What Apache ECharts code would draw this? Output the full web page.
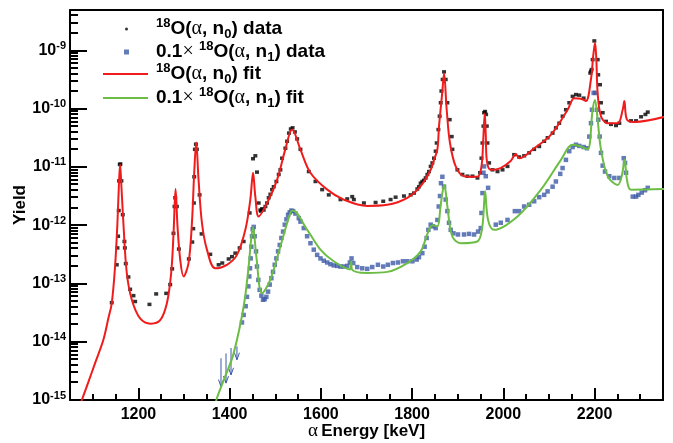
<!DOCTYPE html>
<html><head><meta charset="utf-8">
<script src="https://cdn.jsdelivr.net/npm/echarts@6/dist/echarts.min.js"></script>
<style>html,body{margin:0;padding:0;background:#fff}#c{width:673px;height:443px}</style>
</head><body><div id="c"></div>
<script>
// ---- data (energy in keV, yield) ----
const n0Data = [[1141.5,4.68e-14],[1152.5,2.09e-13],[1154,4.07e-13],[1155.4,6.46e-13],[1156.9,1.78e-12],[1157.6,5.75e-12],[1159.1,1.10e-11],[1160.5,1.12e-11],[1162.7,5.75e-12],[1165.7,1.51e-12],[1169.3,5.25e-13],[1170.3,4.07e-13],[1172.3,2.19e-13],[1178.1,1.29e-13],[1181.8,7.94e-14],[1189.1,6.17e-14],[1192.8,4.90e-14],[1224.2,4.37e-14],[1238.9,6.61e-14],[1260.9,6.76e-14],[1269.6,9.55e-14],[1274,1.78e-13],[1276.9,7.24e-13],[1279.1,2.09e-12],[1280.6,2.95e-12],[1284.3,2.09e-12],[1288.7,3.89e-13],[1310.6,2.63e-13],[1318,5.13e-13],[1320.2,8.71e-13],[1321.6,2.40e-12],[1322.3,6.76e-12],[1323.8,2.0e-11],[1326,2.45e-11],[1328.2,2.0e-11],[1334.1,3.31e-12],[1338.5,7.08e-13],[1357.5,3.16e-13],[1375.8,2.09e-13],[1383.8,2.24e-13],[1397.8,2.63e-13],[1405.1,2.88e-13],[1412.4,3.31e-13],[1421.9,4.07e-13],[1430.7,5.25e-13],[1443.9,1.62e-12],[1451.2,1.38e-11],[1456.3,1.55e-11],[1460,8.13e-12],[1463.6,2.40e-12],[1467.3,1.82e-12],[1468.5,1.74e-12],[1471,1.91e-12],[1474.6,1.82e-12],[1478.3,2.09e-12],[1482,2.40e-12],[1485.6,2.95e-12],[1489.3,3.39e-12],[1493,4.07e-12],[1496.6,4.57e-12],[1502.4,5.62e-12],[1507.6,7.41e-12],[1511.2,8.91e-12],[1514.9,1.41e-11],[1522.2,2.09e-11],[1525.9,2.75e-11],[1530,3.80e-11],[1534,4.47e-11],[1538,4.68e-11],[1543,3.98e-11],[1548,3.02e-11],[1555.2,2.0e-11],[1573.5,8.32e-12],[1588.1,5.62e-12],[1602.8,4.07e-12],[1617.3,3.31e-12],[1643,2.75e-12],[1657.7,2.82e-12],[1668.7,3.09e-12],[1672.3,2.75e-12],[1694.3,2.40e-12],[1719.9,2.45e-12],[1736.7,2.57e-12],[1752.8,2.75e-12],[1763.8,3.02e-12],[1782.1,3.16e-12],[1796.8,3.31e-12],[1804,3.55e-12],[1811.4,4.17e-12],[1815,4.57e-12],[1818.7,5.25e-12],[1822.4,5.62e-12],[1826,5.89e-12],[1829.7,6.46e-12],[1833.4,7.41e-12],[1837,8.32e-12],[1840.7,1.02e-11],[1844.4,1.17e-11],[1848,1.41e-11],[1851.7,1.86e-11],[1853.9,2.57e-11],[1857.6,4.37e-11],[1860.4,7.41e-11],[1862.7,1.26e-10],[1864.2,2.0e-10],[1867,3.16e-10],[1870,4.27e-10],[1873.6,3.16e-10],[1877.3,1.26e-10],[1882.4,6.46e-11],[1886.8,3.31e-11],[1888.3,2.0e-11],[1899.3,8.91e-12],[1910.3,7.41e-12],[1921.3,6.92e-12],[1932.3,6.92e-12],[1943.2,6.46e-12],[1949,7.94e-12],[1952,1.41e-11],[1954.2,2.57e-11],[1956.4,5.01e-11],[1957.8,8.51e-11],[1960,8.91e-11],[1962.2,7.94e-11],[1963.7,5.01e-11],[1965.2,2.57e-11],[1968.8,1.17e-11],[1976.2,8.91e-12],[1987.2,8.32e-12],[1998.2,8.91e-12],[2009.1,1.02e-11],[2023.6,1.62e-11],[2034.6,1.48e-11],[2045.6,1.55e-11],[2056.6,1.74e-11],[2067.6,2.0e-11],[2078.6,2.24e-11],[2089.5,2.75e-11],[2097,3.16e-11],[2108,3.80e-11],[2115.2,4.68e-11],[2122.5,5.62e-11],[2129.9,7.41e-11],[2137.2,9.55e-11],[2144.5,1.26e-10],[2151.9,1.62e-10],[2159.2,1.74e-10],[2166.5,1.70e-10],[2176,1.51e-10],[2190.6,4.07e-10],[2192,4.37e-10],[2193.6,4.68e-10],[2195.8,6.92e-10],[2199.4,1.45e-9],[2206.8,6.92e-10],[2208,3.80e-10],[2211.9,2.57e-10],[2214,1.26e-10],[2217.8,8.51e-11],[2225,6.03e-11],[2236,5.37e-11],[2247,5.13e-11],[2254.3,5.62e-11],[2280,6.17e-11],[2290.9,6.17e-11],[2301.9,7.24e-11],[2311.4,7.94e-11],[2316.6,8.71e-11]];

const n1Data = [[1427,2.14e-14],[1430.7,2.88e-14],[1435.1,4.07e-14],[1438,5.89e-14],[1441,8.91e-14],[1443.1,1.32e-13],[1444.6,1.82e-13],[1446.1,2.69e-13],[1447.5,4.27e-13],[1449,6.46e-13],[1450.5,8.51e-13],[1452.7,9.33e-13],[1454.9,6.46e-13],[1457.8,3.55e-13],[1460,1.95e-13],[1462.9,1.15e-13],[1465.8,7.76e-14],[1469.5,6.17e-14],[1473.2,5.25e-14],[1476.8,5.37e-14],[1480.5,5.89e-14],[1484.2,7.24e-14],[1487.8,9.55e-14],[1491.5,1.23e-13],[1495.1,1.58e-13],[1498.8,2.09e-13],[1502.4,2.69e-13],[1506.1,3.55e-13],[1509.8,4.57e-13],[1513.4,6.03e-13],[1517.1,7.76e-13],[1520.8,1.02e-12],[1524.4,1.26e-12],[1528.1,1.51e-12],[1531.7,1.66e-12],[1535.4,1.78e-12],[1539.1,1.74e-12],[1544.2,1.58e-12],[1551.5,1.32e-12],[1555.2,1.15e-12],[1562.5,8.91e-13],[1569.8,6.46e-13],[1577.1,4.90e-13],[1584.4,3.80e-13],[1591.8,3.09e-13],[1599.1,2.69e-13],[1606.4,2.45e-13],[1613.8,2.29e-13],[1621,2.14e-13],[1628.3,2.04e-13],[1635.8,2.0e-13],[1643,1.95e-13],[1650.3,1.95e-13],[1657.7,2.0e-13],[1663.5,2.29e-13],[1667.2,2.69e-13],[1670.9,2.24e-13],[1679.7,1.91e-13],[1690.7,1.82e-13],[1701.7,1.78e-13],[1712.6,1.91e-13],[1725,2.09e-13],[1736.7,1.95e-13],[1746.9,2.09e-13],[1757.9,2.24e-13],[1768.9,2.29e-13],[1779.9,2.40e-13],[1789.5,2.40e-13],[1800.5,2.40e-13],[1809.9,2.57e-13],[1815,2.82e-13],[1822.4,3.31e-13],[1827.5,4.27e-13],[1831.9,6.03e-13],[1835.6,8.32e-13],[1840.7,1.02e-12],[1845.8,9.55e-13],[1851.7,8.91e-13],[1855.4,1.23e-12],[1858.3,2.09e-12],[1861.1,3.16e-12],[1863.3,5.25e-12],[1866.3,6.76e-12],[1870,4.57e-12],[1873.6,2.75e-12],[1877.3,1.74e-12],[1880.9,1.10e-12],[1884.6,8.32e-13],[1890.5,7.24e-13],[1900.6,6.92e-13],[1913.8,6.92e-13],[1924.8,7.08e-13],[1935.8,6.92e-13],[1944.6,7.76e-13],[1950.5,8.91e-13],[1952,1.62e-12],[1954.2,3.55e-12],[1956.4,7.94e-12],[1957.8,1.02e-11],[1961.5,6.92e-12],[1966.6,4.37e-12],[1983.4,1.02e-12],[1994.4,1.10e-12],[2009.1,1.23e-12],[2025.2,1.74e-12],[2034.6,1.74e-12],[2045.6,2.09e-12],[2056.6,2.24e-12],[2067.6,2.57e-12],[2078.6,3.02e-12],[2089.5,3.31e-12],[2097,3.80e-12],[2108,4.57e-12],[2115.2,5.62e-12],[2124.7,7.59e-12],[2129.9,9.55e-12],[2137.2,1.32e-11],[2144.5,1.86e-11],[2151.9,2.19e-11],[2159.2,2.40e-11],[2166.5,2.29e-11],[2176,2.19e-11],[2183.3,2.09e-11],[2188.4,3.31e-11],[2192.1,5.62e-11],[2194.3,9.55e-11],[2198,1.86e-10],[2201.6,1.86e-10],[2205.3,9.55e-11],[2208.2,6.46e-11],[2211.2,3.31e-11],[2214.1,1.74e-11],[2217.8,1.05e-11],[2222.9,8.32e-12],[2232.3,6.92e-12],[2243.3,6.46e-12],[2254.3,6.46e-12],[2263.9,1.41e-11],[2266.8,1.17e-11],[2269,7.94e-12],[2283.7,3.09e-12],[2290.9,3.09e-12],[2296,3.31e-12],[2303.4,3.63e-12],[2310.7,3.98e-12],[2316.6,4.37e-12]];

const n0Fit = [[1066,6.3e-16],[1076,1.0e-15],[1090,2.0e-15],[1105,4.3e-15],[1123,1.07e-14],[1134,2.5e-14],[1141.5,4.57e-14],[1148.8,1.95e-13],[1154,1.10e-12],[1157,4.47e-12],[1159.8,1.10e-11],[1162.5,5.0e-12],[1167,1.10e-12],[1174.5,1.51e-13],[1185.5,5.25e-14],[1203.7,2.51e-14],[1227,2.04e-14],[1247.7,2.34e-14],[1262.4,4.57e-14],[1271.8,1.51e-13],[1277,7.24e-13],[1281.4,4.17e-12],[1285.7,9.55e-13],[1291.6,2.57e-13],[1298.9,1.32e-13],[1309.8,2.24e-13],[1317.3,1.10e-12],[1322.3,7.94e-12],[1326.7,2.63e-11],[1331.8,6.03e-12],[1339.2,1.10e-12],[1350.2,3.80e-13],[1368.5,1.82e-13],[1394,2.09e-13],[1416,3.09e-13],[1434.4,8.32e-13],[1445.3,2.75e-12],[1451.3,7.94e-12],[1456.3,3.09e-12],[1463.6,1.41e-12],[1482,2.40e-12],[1504,6.03e-12],[1522,2.0e-11],[1537,4.37e-11],[1555,2.0e-11],[1577,7.94e-12],[1614,4.07e-12],[1650,2.75e-12],[1701.6,2.14e-12],[1745.6,2.24e-12],[1789.5,2.95e-12],[1818.7,4.68e-12],[1840.7,8.91e-12],[1848,1.32e-11],[1855.4,2.0e-11],[1859,5.01e-11],[1866,1.86e-10],[1870,4.0e-10],[1875.8,9.55e-11],[1883,2.57e-11],[1895.6,1.02e-11],[1913.9,6.92e-12],[1943,6.76e-12],[1952,1.02e-11],[1956,3.0e-11],[1959.3,8.32e-11],[1961.5,3.5e-11],[1963.6,1.32e-11],[1972.4,8.91e-12],[1994,9.55e-12],[2016,1.26e-11],[2027.4,1.66e-11],[2034.6,1.41e-11],[2067.6,2.09e-11],[2104,3.55e-11],[2141,9.55e-11],[2155.5,1.51e-10],[2170,1.48e-10],[2181,1.35e-10],[2192,3.16e-10],[2197,8.0e-10],[2201,1.35e-9],[2204,6.5e-10],[2206.7,1.86e-10],[2214,7.41e-11],[2228.8,5.62e-11],[2250.7,5.62e-11],[2261.6,9.55e-11],[2265.3,1.35e-10],[2271,6.46e-11],[2287,5.89e-11],[2353,7.24e-11]];

const n1Fit = [[1366,6.3e-16],[1372,1.07e-15],[1390,2.51e-15],[1408.7,6.31e-15],[1430.6,3.98e-14],[1441.6,1.95e-13],[1447,5.62e-13],[1451.3,9.33e-13],[1455,5.62e-13],[1458.5,2.88e-13],[1471,6.76e-14],[1489,1.15e-13],[1511,4.27e-13],[1533,1.62e-12],[1538,1.78e-12],[1570,8.32e-13],[1599,3.80e-13],[1628,2.40e-13],[1664,1.74e-13],[1666.5,2.40e-13],[1668,1.74e-13],[1701.6,1.51e-13],[1745.6,1.58e-13],[1789.5,2.24e-13],[1818.7,3.55e-13],[1833.5,7.08e-13],[1844.4,1.0e-12],[1855.4,9.55e-13],[1862,2.0e-12],[1866.3,3.55e-12],[1870.5,4.90e-12],[1874,3.55e-12],[1877.3,2.09e-12],[1888,6.46e-13],[1906.6,4.90e-13],[1943,5.25e-13],[1954,9.55e-13],[1960,3.80e-12],[1966.5,1.23e-12],[1979.8,8.32e-13],[2031,1.41e-12],[2082.3,4.07e-12],[2126.3,1.32e-11],[2152,2.40e-11],[2170,2.24e-11],[2184.8,2.0e-11],[2195.7,9.55e-11],[2200.8,1.41e-10],[2206.7,6.46e-11],[2214,2.0e-11],[2228.8,6.92e-12],[2250.7,4.90e-12],[2259.4,6.92e-12],[2266,1.32e-11],[2271,6.03e-12],[2280,4.07e-12],[2353,4.17e-12]];

// upper limits: [energy, start, arrow tip]
const n1Limits = [[1381,5.2e-15,1.7e-15],[1392,6.3e-15,1.95e-15],[1403,7.8e-15,2.7e-15],[1416,8.3e-15,4.9e-15]];

const xRange = [1050, 2350];
const yRange = [1e-15, 4.92e-9];
// minor ticks of the log axis: 2..9 x each decade
const yMinorMantissas = [2, 3, 4, 5, 6, 7, 8, 9];
const yDecades = [-15, -14, -13, -12, -11, -10, -9];
const yMinorTicks = [];
yDecades.forEach(d => yMinorMantissas.forEach(m => {
  const v = m * Math.pow(10, d);
  if (v < yRange[1]) yMinorTicks.push([xRange[0], v]);
}));

const FONT = '"Liberation Sans", Arial, Helvetica, sans-serif';
const RED = '#f01c1c', GREEN = '#6cbd45', BLUE = '#3d5aa8';

const legRich = {
  b: {fontFamily: FONT, fontWeight: 'bold', fontSize: 19, lineHeight: 24, color: '#000'},
  g: {fontFamily: '"Liberation Serif", serif', fontSize: 20, lineHeight: 24, color: '#000'},
  s: {fontFamily: FONT, fontWeight: 'bold', fontSize: 13, lineHeight: 13, verticalAlign: 'top', color: '#000'},
  u: {fontFamily: FONT, fontWeight: 'bold', fontSize: 13, lineHeight: 13, verticalAlign: 'bottom', color: '#000'}
};
const legText = {
  'n0 data': '{s|18}{b|O(}{g|α}{b|, n}{u|0}{b|) data}',
  'n1 data': '{b|0.1}{g|×}{b| }{s|18}{b|O(}{g|α}{b|, n}{u|1}{b|) data}',
  'n0 fit': '{s|18}{b|O(}{g|α}{b|, n}{u|0}{b|) fit}',
  'n1 fit': '{b|0.1}{g|×}{b| }{s|18}{b|O(}{g|α}{b|, n}{u|1}{b|) fit}'
};
function mkLegend(name, icon, left, top, w, h, pad) {
  return {
    data: [{name: name, icon: icon}], left: left, top: top, padding: 0,
    itemWidth: w, itemHeight: h, selectedMode: false,
    formatter: n => '{p|}' + legText[n],
    textStyle: {rich: Object.assign({}, legRich, {p: {width: pad, lineHeight: 24}})}
  };
}
function frameLine() { return {show: true, onZero: false, lineStyle: {color: '#000', width: 2}}; }
function tickStyle() { return {color: '#000', width: 2}; }

const chart = echarts.init(document.getElementById('c'), null, {renderer: 'canvas', width: 673, height: 443});
chart.setOption({
  animation: false,
  backgroundColor: '#fff',
  grid: {left: 70, right: 10, top: 10, bottom: 43, show: false, containLabel: false, outerBoundsMode: 'none'},
  legend: [
    mkLegend('n0 data', 'circle', 125, 17, 3, 3, 23),
    mkLegend('n1 data', 'rect', 124, 40, 5, 5, 22),
    mkLegend('n0 fit', 'rect', 103, 62, 45, 2, 3),
    mkLegend('n1 fit', 'rect', 103, 86, 45, 2, 3)
  ],
  xAxis: [{
    type: 'value', min: xRange[0], max: xRange[1], splitNumber: 6,
    axisLine: frameLine(),
    axisTick: {show: true, inside: true, length: 12, lineStyle: tickStyle()},
    minorTick: {show: true, splitNumber: 4, length: 6, lineStyle: tickStyle()},
    splitLine: {show: false},
    axisLabel: {showMinLabel: false, showMaxLabel: false, margin: 7, color: '#000', fontSize: 16, fontWeight: 'bold', fontFamily: FONT,
      formatter: v => String(v)},
    name: '{a|α} {b|Energy [keV]}', nameLocation: 'middle', nameGap: 22, nameMoveOverlap: false,
    nameTextStyle: {rich: {
      a: {fontFamily: '"Liberation Serif", serif', fontSize: 19, color: '#000'},
      b: {fontFamily: FONT, fontWeight: 'bold', fontSize: 17, color: '#000'}
    }}
  }, {
    type: 'value', position: 'top', min: xRange[0], max: xRange[1],
    axisLine: frameLine(), axisTick: {show: false}, axisLabel: {show: false}, splitLine: {show: false}
  }],
  yAxis: [{
    type: 'log', logBase: 10, min: yRange[0], max: yRange[1],
    axisLine: frameLine(),
    axisTick: {show: true, inside: true, length: 17, lineStyle: tickStyle()},
    splitLine: {show: false},
    axisLabel: {
      showMaxLabel: false, margin: 4, color: '#000',
      formatter: v => {
        const e = Math.log10(v), r = Math.round(e);
        if (Math.abs(e - r) > 1e-6) return '';
        return '{b|10}{s|' + r + '}';
      },
      rich: {
        b: {fontFamily: FONT, fontWeight: 'bold', fontSize: 16, lineHeight: 20, color: '#000'},
        s: {fontFamily: FONT, fontWeight: 'bold', fontSize: 11, lineHeight: 11, verticalAlign: 'top', color: '#000'}
      }
    },
    name: 'Yield', nameLocation: 'middle', nameGap: 41, nameRotate: 90, nameMoveOverlap: false,
    nameTextStyle: {fontFamily: FONT, fontWeight: 'bold', fontSize: 17, color: '#000'}
  }, {
    type: 'value', position: 'right', min: 0, max: 1,
    axisLine: frameLine(), axisTick: {show: false}, axisLabel: {show: false}, splitLine: {show: false}
  }],
  series: [
    {name: 'y minor ticks', type: 'custom', data: yMinorTicks, encode: {x: 0, y: 1}, clip: false, z: 6,
      renderItem: (params, api) => {
        const p = api.coord([api.value(0), api.value(1)]);
        const y = Math.round(p[1]);
        return {type: 'line', shape: {x1: p[0], y1: y, x2: p[0] + 8, y2: y}, style: {stroke: '#000', lineWidth: 2}};
      }},
    {name: 'n0 data', type: 'scatter', data: n0Data, symbol: 'rect', symbolSize: [4, 3.5], itemStyle: {color: '#000'}, z: 2},
    {name: 'n1 data', type: 'scatter', data: n1Data, symbol: 'rect', symbolSize: [4.5, 4.5], itemStyle: {color: BLUE}, z: 2},
    {name: 'n1 limits', type: 'custom', data: n1Limits, encode: {x: 0, y: [1, 2]}, z: 2,
      renderItem: (params, api) => {
        const a = api.coord([api.value(0), api.value(1)]);
        const b = api.coord([api.value(0), api.value(2)]);
        return {type: 'group', children: [
          {type: 'line', shape: {x1: a[0], y1: a[1], x2: b[0], y2: b[1]}, style: {stroke: BLUE, lineWidth: 1}},
          {type: 'polyline', shape: {points: [[b[0] - 2.5, b[1] - 7], [b[0], b[1]], [b[0] + 2.5, b[1] - 7]]}, style: {stroke: BLUE, lineWidth: 1, fill: null}}
        ]};
      }},
    {name: 'n0 fit', type: 'line', data: n0Fit, symbol: 'none', smooth: 0.35, lineStyle: {color: RED, width: 2}, itemStyle: {color: RED}, clip: true, z: 3},
    {name: 'n1 fit', type: 'line', data: n1Fit, symbol: 'none', smooth: 0.35, lineStyle: {color: GREEN, width: 2}, itemStyle: {color: GREEN}, clip: true, z: 3}
  ]
});
</script>
</body></html>
